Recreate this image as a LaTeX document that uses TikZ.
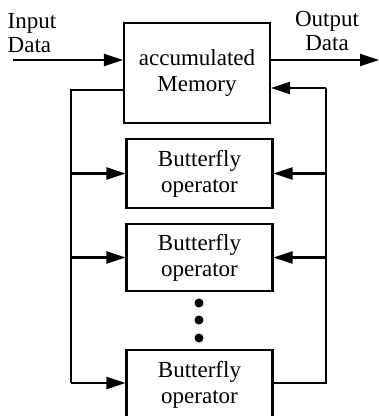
\documentclass[tikz,border=0pt]{standalone}
\usepackage{fontspec}
\setmainfont{Liberation Serif}
\usetikzlibrary{arrows.meta}
\begin{document}
\begin{tikzpicture}[x=1pt,y=-1pt,
  box/.style={draw,line width=2.1pt,minimum width=146pt,inner sep=0pt,align=center,font=\fontsize{23}{26}\selectfont},
  lbl/.style={inner sep=0pt,font=\fontsize{23}{24}\selectfont},
  wire/.style={line width=2.1pt},
  arr/.style={wire,-{Triangle[length=19pt,width=12pt]}}]
\useasboundingbox (0,0) rectangle (379,416);

\node[box,minimum height=100pt] (mem) at (197,73) {accumulated\\Memory};
\node[box,minimum height=69pt] (bf1) at (199.5,173.5) {Butterfly\\operator};
\node[box,minimum height=67pt] (bf2) at (199.5,257.5) {Butterfly\\operator};
\node[box,minimum height=69pt] (bf3) at (199.5,384.5) {Butterfly\\operator};

\node[lbl,align=left] (in) at (32,33) {Input\\Data};
\node[lbl,align=center] (out) at (327,31) {Output\\Data};

\coordinate (inS) at (13,60);
\coordinate (outE) at (379,60);
\draw[arr] (inS) -- (mem.west |- inS);
\draw[arr] (mem.east |- outE) -- (outE);

% left bus
\coordinate (lt) at (71,90);
\coordinate (lb) at (71,383);
\draw[wire] (mem.west |- lt) -- (lt) -- (lb);
\draw[arr] (lt |- bf1.west) -- (bf1.west);
\draw[arr] (lt |- bf2.west) -- (bf2.west);
\draw[arr] (lb) -- (bf3.west |- lb);

% right bus
\coordinate (rt) at (326,88);
\coordinate (rb) at (326,383);
\draw[wire] (bf3.east |- rb) -- (rb) -- (rt);
\draw[arr] (rt) -- (mem.east |- rt);
\draw[arr] (rt |- bf1.east) -- (bf1.east);
\draw[arr] (rt |- bf2.east) -- (bf2.east);

\foreach \y in {303,320,338}
  \fill (199,\y) circle (4.5pt);

\end{tikzpicture}
\end{document}
